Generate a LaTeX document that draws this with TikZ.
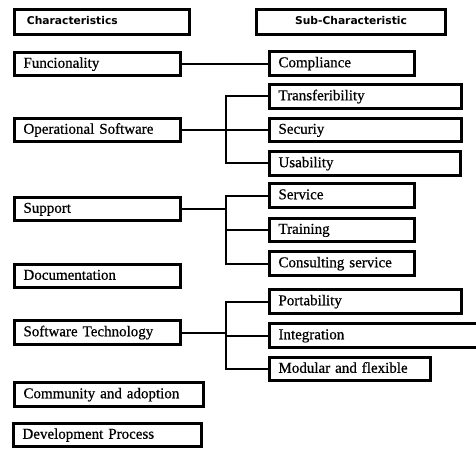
\documentclass[tikz,border=0pt]{standalone}
\usepackage{fontspec}
\setmainfont{Liberation Serif}
\newfontfamily\bodyfont{Liberation Serif}[FakeBold=0.6]
\newfontfamily\hdfont{DejaVu Sans}
\tikzset{
  box/.style={draw, line width=3pt, inner ysep=0pt, align=left,
    font=\bodyfont\fontsize{15}{17}\selectfont, text height=11pt, text depth=3.5pt},
  hdbox/.style={draw, line width=3pt, inner ysep=0pt, align=left,
    font=\hdfont\bfseries\fontsize{10.7}{12}\selectfont, text height=8pt, text depth=2pt},
  link/.style={line width=2pt},
}
% #1 style, #2 xsep, #3 name, #4 x1, #5 y1, #6 x2, #7 y2, #8 text (outer edges)
\newcommand\bx[8]{%
  \pgfmathsetmacro\bw{#6-#4-3}%
  \pgfmathsetmacro\bh{#7-#5-3}%
  \pgfmathsetmacro\tw{#6-#4-3-2*#2}%
  \node[#1, inner xsep=#2pt, anchor=north west, minimum width=\bw pt,
        minimum height=\bh pt, text width=\tw pt] (#3) at (#4,#5) {#8};}
\begin{document}
\begin{tikzpicture}[x=1pt,y=-1pt]
\useasboundingbox (0,0) rectangle (476,449);
\fill[white] (0,0) rectangle (476,449);
% headers
\bx{hdbox}{12.5}{hC}{13}{8}{191}{36}{Characteristics}
\bx{hdbox,align=center}{10}{hS}{255}{8}{447}{36}{Sub-Characteristic}
% characteristics
\bx{box}{9}{F}{13}{51}{182}{77}{Funcionality}
\bx{box}{9}{O}{13}{117}{182}{143}{Operational Software}
\bx{box}{9}{Su}{13}{196}{182}{222}{Support}
\bx{box}{9}{D}{13}{263}{182}{289}{Documentation}
\bx{box}{9}{ST}{13}{319}{182}{346}{Software Technology}
\bx{box}{9}{CA}{13}{381}{205}{408}{Community and adoption}
\bx{box}{9}{DP}{12}{422}{203}{448}{Development Process}
% sub-characteristics
\bx{box}{9}{C}{268}{50}{416}{77}{Compliance}
\bx{box}{9}{T}{268}{83}{463}{110}{Transferibility}
\bx{box}{9}{Sc}{268}{117}{463}{143}{Securiy}
\bx{box}{9}{U}{268}{150}{462}{177}{Usability}
\bx{box}{9}{Sv}{268}{182}{416}{209}{Service}
\bx{box}{9}{Tr}{268}{217}{416}{243}{Training}
\bx{box}{9}{Cs}{268}{250}{416}{277}{Consulting service}
\bx{box}{9}{P}{268}{288}{463}{315}{Portability}
\bx{box}{9}{I}{268}{322}{482}{349}{Integration}
\bx{box}{9}{M}{268}{356}{432}{382}{Modular and flexible}
% bus points
\coordinate (b1) at (O.east -| 226,0);
\coordinate (b2) at (Su.east -| 226,0);
\coordinate (b3) at (ST.east -| 226,0);
% connectors
\draw[link] (F.east) -- (F.east -| C.west);
\draw[link] (O.east) -- (b1) -- (Sc.west);
\draw[link] (T.west) -| (b1) |- (U.west);
\draw[link] (Su.east) -- (b2);
\draw[link] (Sv.west) -| (b2) |- (Cs.west);
\draw[link] (Tr.west) -- (Tr.west -| b2);
\draw[link] (ST.east) -- (b3);
\draw[link] (P.west) -| (b3) |- (M.west);
\draw[link] (I.west) -- (I.west -| b3);
\end{tikzpicture}
\end{document}
